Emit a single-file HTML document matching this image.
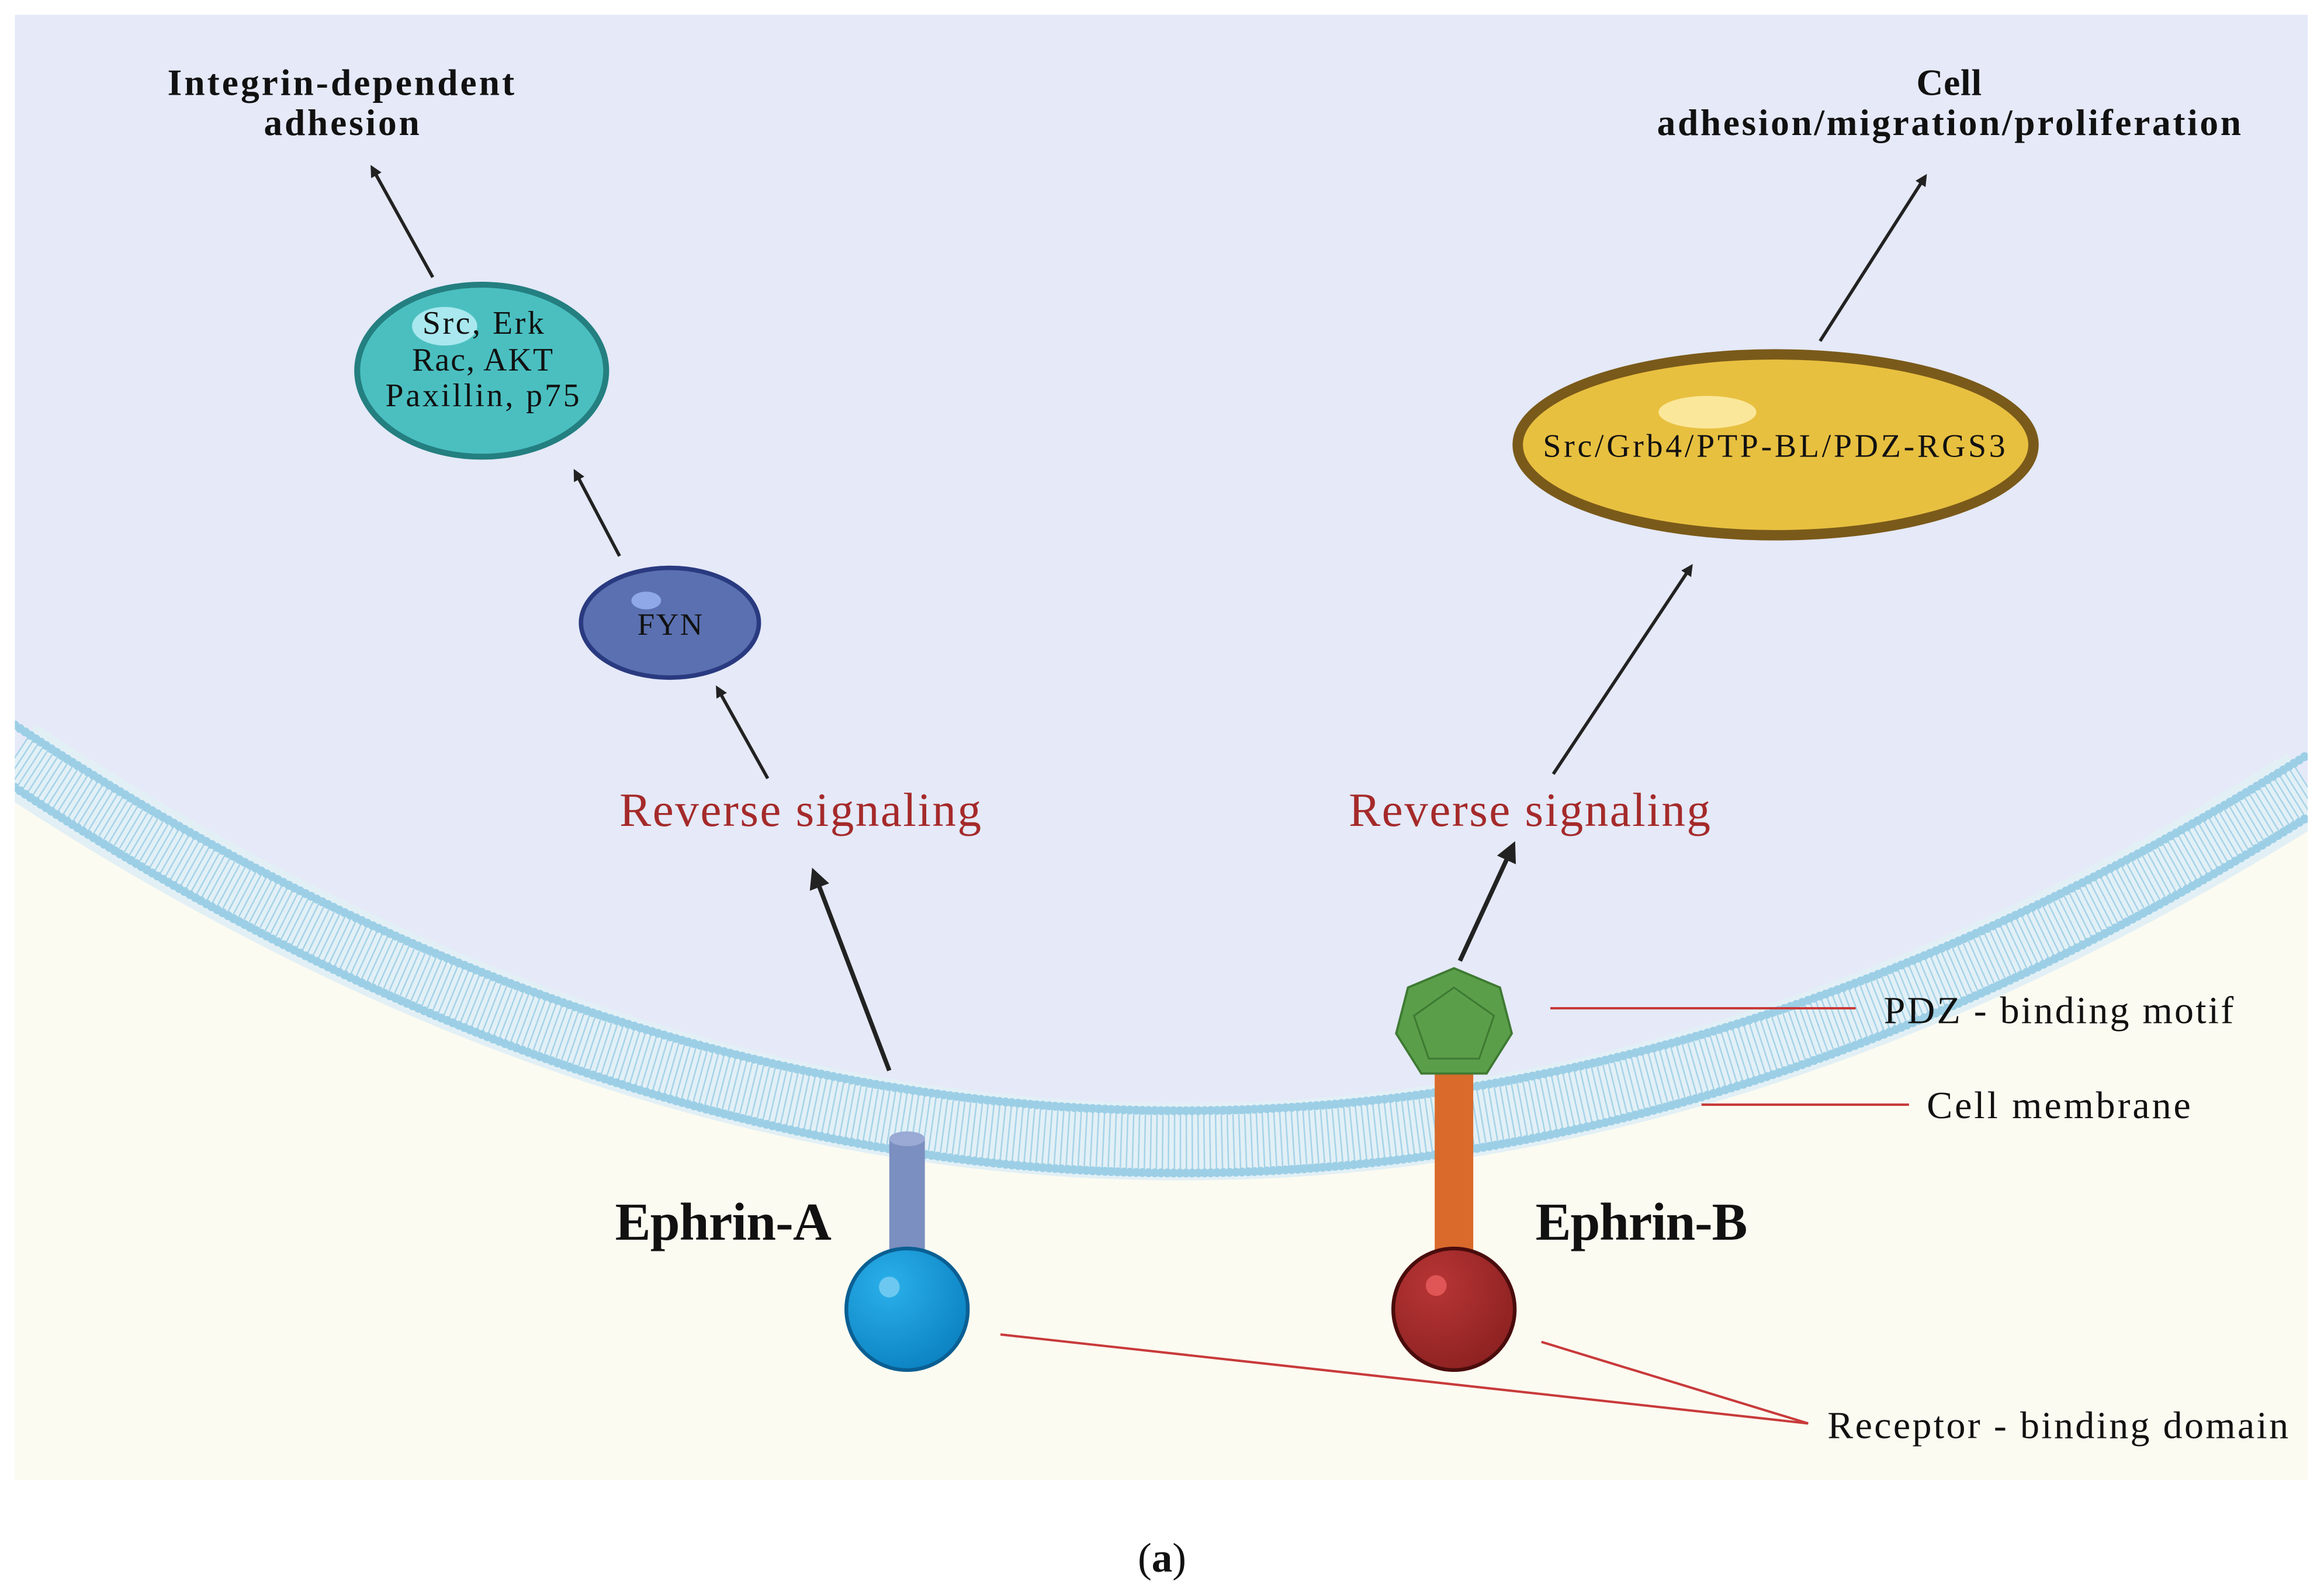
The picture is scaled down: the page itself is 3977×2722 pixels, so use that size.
<!DOCTYPE html>
<html><head><meta charset="utf-8"><style>html,body{margin:0;padding:0;background:#fff}svg{display:block}</style></head>
<body>
<svg width="3977" height="2722" viewBox="0 0 1568 1073" preserveAspectRatio="none" xmlns="http://www.w3.org/2000/svg" font-family="Liberation Serif, serif">
<defs>
<marker id="ah" markerWidth="8" markerHeight="8" refX="6" refY="4" orient="auto" markerUnits="userSpaceOnUse"><path d="M0,0 L8,4 L0,8 z" fill="#222"/></marker>
<marker id="ah2" markerWidth="14" markerHeight="14" refX="11" refY="7" orient="auto" markerUnits="userSpaceOnUse"><path d="M0,0 L14,7 L0,14 z" fill="#222"/></marker>
<radialGradient id="gb" cx="0.35" cy="0.3" r="0.8"><stop offset="0" stop-color="#2ab0ea"/><stop offset="1" stop-color="#0a7fbf"/></radialGradient>
<radialGradient id="gr" cx="0.35" cy="0.3" r="0.8"><stop offset="0" stop-color="#b83535"/><stop offset="1" stop-color="#8a2020"/></radialGradient>
<clipPath id="cp"><rect x="10" y="10" width="1547" height="988"/></clipPath>
</defs>
<rect x="10" y="10" width="1547" height="988" fill="#fcfbf1"/>
<g clip-path="url(#cp)">
<path d="M10,10 L1557,10 L1557,530 Q780,1020 10,510 Z" fill="#e5e9f8"/>
<path d="M10,510 Q780,1020 1557,530" fill="none" stroke="#e2f0f6" stroke-width="52"/>
<path d="M10,510 Q780,1020 1557,530" fill="none" stroke="#a6d3e8" stroke-width="40" stroke-dasharray="1 3"/>
<path d="M10,489 Q780,999 1557,509" fill="none" stroke="#9ccfe6" stroke-width="6" stroke-linecap="round" stroke-dasharray="0 4.2"/>
<path d="M10,531 Q780,1041 1557,551" fill="none" stroke="#9ccfe6" stroke-width="6" stroke-linecap="round" stroke-dasharray="0 4.2"/>
</g>
<g stroke="#222" stroke-width="2.2" fill="none">
<line x1="600" y1="722" x2="549" y2="588" marker-end="url(#ah2)" stroke-width="3"/>
<line x1="985" y1="648" x2="1021" y2="570" marker-end="url(#ah2)" stroke-width="3"/>
<line x1="518" y1="525" x2="484" y2="464" marker-end="url(#ah)"/>
<line x1="1048" y1="522" x2="1141" y2="382" marker-end="url(#ah)"/>
<line x1="418" y1="375" x2="388" y2="318" marker-end="url(#ah)"/>
<line x1="292" y1="187" x2="251" y2="113" marker-end="url(#ah)"/>
<line x1="1228" y1="230" x2="1299" y2="119" marker-end="url(#ah)"/>
</g>
<g stroke="#c83a3a" stroke-width="1.6">
<line x1="1046" y1="680" x2="1252" y2="680"/>
<line x1="1148" y1="745" x2="1288" y2="745"/>
<line x1="675" y1="900" x2="1220" y2="960"/>
<line x1="1040" y1="905" x2="1220" y2="960"/>
</g>
<rect x="600" y="768" width="24" height="80" fill="#7b8fc0"/>
<ellipse cx="612" cy="768" rx="12" ry="5" fill="#9aaad4"/>
<circle cx="612" cy="883" r="41" fill="url(#gb)" stroke="#0a5f93" stroke-width="2.5"/>
<circle cx="600" cy="868" r="7" fill="#6cc8f0"/>
<rect x="968" y="722" width="26" height="126" fill="#d96a2b"/>
<circle cx="981" cy="883" r="41" fill="url(#gr)" stroke="#4a0c0c" stroke-width="2.5"/>
<circle cx="969" cy="867" r="7" fill="#e05555"/>
<polygon points="981,653 1012,666 1020,697 1003,724 959,724 942,697 950,666" fill="#5a9e4a" stroke="#3e7a32" stroke-width="1.5"/>
<polygon points="981,666 1008,685 998,714 964,714 954,685" fill="none" stroke="#3e7a32" stroke-width="1.2"/>
<ellipse cx="452" cy="420" rx="60" ry="37" fill="#5a70b0" stroke="#2a3a80" stroke-width="3"/>
<ellipse cx="436" cy="405" rx="10" ry="6" fill="#8fa8e8"/>
<text x="430" y="428" font-size="21" textLength="44" fill="#111">FYN</text>
<ellipse cx="325" cy="250" rx="84" ry="58" fill="#4bbfc0" stroke="#247f80" stroke-width="4"/>
<ellipse cx="300" cy="220" rx="22" ry="13" fill="#a8e8ee"/>
<g font-size="22" fill="#111">
<text x="285" y="225" textLength="82">Src, Erk</text><text x="278" y="250" textLength="95">Rac, AKT</text><text x="260" y="274" textLength="131">Paxillin, p75</text></g>
<ellipse cx="1198" cy="300" rx="174" ry="61" fill="#e8c040" stroke="#7a5a1a" stroke-width="7"/>
<ellipse cx="1152" cy="278" rx="33" ry="11" fill="#fbe79a"/>
<text x="1041" y="308" font-size="22" textLength="312" fill="#111">Src/Grb4/PTP-BL/PDZ-RGS3</text>
<g font-weight="bold" font-size="25" fill="#111">
<text x="113" y="64" textLength="234">Integrin-dependent</text><text x="178" y="91" textLength="105">adhesion</text>
<text x="1293" y="64" textLength="44">Cell</text><text x="1118" y="91" textLength="394">adhesion/migration/proliferation</text>
</g>
<g font-size="32" fill="#a52a2a">
<text x="418" y="557" textLength="244">Reverse signaling</text><text x="910" y="557" textLength="244">Reverse signaling</text></g>
<g font-size="36" font-weight="bold" fill="#111">
<text x="415" y="836" textLength="146">Ephrin-A</text><text x="1036" y="836" textLength="143">Ephrin-B</text></g>
<g font-size="26" fill="#111">
<text x="1271" y="690" textLength="236">PDZ - binding motif</text>
<text x="1300" y="754" textLength="178">Cell membrane</text>
<text x="1233" y="970" textLength="311">Receptor - binding domain</text>
</g>
<text x="784" y="1060" font-size="28" text-anchor="middle" fill="#111">(<tspan font-weight="bold">a</tspan>)</text>
</svg>
</body></html>
